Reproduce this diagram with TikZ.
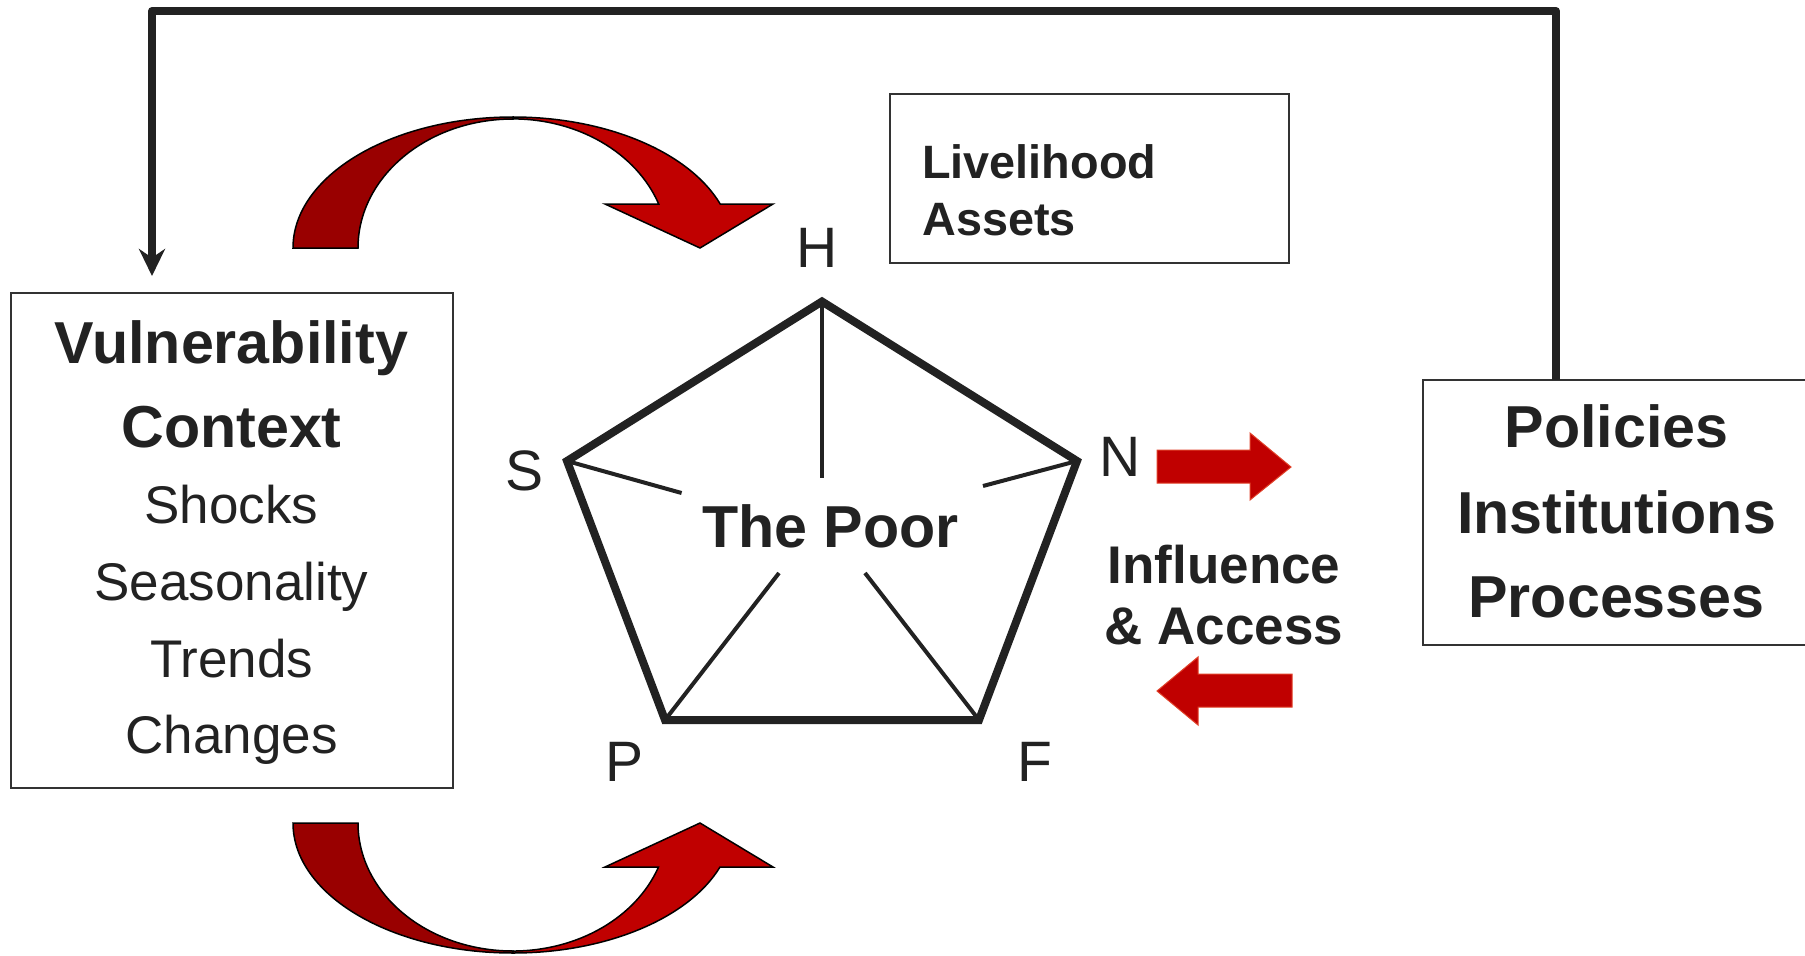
\documentclass[tikz,border=0pt]{standalone}
\usepackage{fontspec}
\setmainfont{Liberation Sans}
\usetikzlibrary{arrows.meta}
\definecolor{ink}{HTML}{222222}
\definecolor{boxline}{HTML}{333333}
\definecolor{dred}{HTML}{990000}
\definecolor{bred}{HTML}{C00000}
\definecolor{redrim}{HTML}{E04028}
\begin{document}
\begin{tikzpicture}[x=1pt,y=-1pt,
  frame/.style={draw=boxline, line width=2pt, inner sep=0pt, outer sep=0pt, anchor=north west},
  bigbold/.style={text=ink, inner sep=0pt, anchor=base, font=\fontsize{59.2}{60}\selectfont\bfseries},
  plain/.style={text=ink, inner sep=0pt, anchor=base, font=\fontsize{53}{55}\selectfont},
  vlabel/.style={text=ink, inner sep=0pt, anchor=base, font=\fontsize{57}{58}\selectfont},
  midbold/.style={text=ink, inner sep=0pt, anchor=base, font=\fontsize{53}{55}\selectfont\bfseries},
  smallbold/.style={text=ink, inner sep=0pt, anchor=base west, font=\fontsize{46.8}{48}\selectfont\bfseries},
  rim/.style={line width=8pt, draw=ink, line join=miter},
  spoke/.style={line width=4pt, draw=ink},
  feedback/.style={line width=8pt, draw=ink, line join=round},
  curvedark/.style={fill=dred, draw=black, line width=1.5pt, line join=miter},
  curvelight/.style={fill=bred, draw=black, line width=1.5pt, line join=miter},
  flatarrow/.style={fill=bred, draw=redrim, line width=1pt}
]
\useasboundingbox (0,0) rectangle (1805,956);
\fill[white] (0,0) rectangle (1805,956);

% boxes
\node[frame, minimum width=442pt, minimum height=495pt] (vul) at (10.7,293.3) {};
\node[frame, minimum width=399pt, minimum height=169pt] (assets) at (889.5,94.3) {};
\node[frame, minimum width=500pt, minimum height=265pt] (pol) at (1422.7,380) {};

% feedback line
\coordinate (fbA) at (1556,380);
\coordinate (fbB) at (152,11);
\coordinate (fbC) at (152,276);
\draw[feedback, -{Stealth[length=27pt,width=26pt]}] (fbA) |- (fbB) -- (fbC);

% texts in boxes
\node[bigbold] (v1) at (231.5,363) {Vulnerability};
\node[bigbold] (v2) at (231.5,447) {Context};
\node[plain] (v3) at (231.5,523) {Shocks};
\node[plain] (v4) at (231.5,600) {Seasonality};
\node[plain] (v5) at (231.5,677) {Trends};
\node[plain] (v6) at (231.5,753) {Changes};

\node[bigbold] (p1) at (1616.5,447) {Policies};
\node[bigbold] (p2) at (1616.5,533) {Institutions};
\node[bigbold] (p3) at (1616.5,617) {Processes};

\node[smallbold] (a1) at (922,178) {Livelihood};
\node[smallbold] (a2) at (922,235) {Assets};

\node[midbold] (i1) at (1224,583) {Influence};
\node[midbold] (i2) at (1224,644) {\& Access};

% pentagon
\coordinate (H) at (822,301.5);
\coordinate (N) at (1077,461);
\coordinate (F) at (979,720);
\coordinate (P) at (665,720);
\coordinate (S) at (567,461);
\coordinate (hs) at (822,478);
\coordinate (ss) at (681.6,493);
\coordinate (ns) at (983,486);
\coordinate (ps) at (779,573);
\coordinate (fs) at (865,573);
\draw[spoke] (H) -- (hs);
\draw[spoke] (S) -- (ss);
\draw[spoke] (N) -- (ns);
\draw[spoke] (P) -- (ps);
\draw[spoke] (F) -- (fs);
\draw[rim] (H) -- (N) -- (F) -- (P) -- (S) -- cycle;

\node[bigbold] (poor) at (830.5,547) {The Poor};
\node[vlabel] (lH) at (817,267) {H};
\node[vlabel] (lS) at (525,490) {S};
\node[vlabel] (lN) at (1120,476) {N};
\node[vlabel] (lP) at (625,781) {P};
\node[vlabel] (lF) at (1035,781) {F};

% curved arrow, top
\draw[curvedark] (293,248) arc[start angle=180, end angle=90, x radius=220pt, y radius=131pt]
  -- (513,119) arc[start angle=90, end angle=180, x radius=155pt, y radius=129pt] -- cycle;
\draw[curvelight] (513,117) arc[start angle=90, end angle=19.6, x radius=220pt, y radius=131pt]
  -- (773,204) -- (700,248) -- (605,204) -- (658.7,204)
  arc[start angle=19.9, end angle=90, x radius=155pt, y radius=129pt] -- cycle;

% curved arrow, bottom
\draw[curvedark] (293,823) arc[start angle=180, end angle=270, x radius=220pt, y radius=130pt]
  -- (513,951) arc[start angle=270, end angle=180, x radius=155pt, y radius=128pt] -- cycle;
\draw[curvelight] (513,953) arc[start angle=270, end angle=340.2, x radius=220pt, y radius=130pt]
  -- (773,867) -- (700,823) -- (605,867) -- (658.5,867)
  arc[start angle=339.9, end angle=270, x radius=155pt, y radius=128pt] -- cycle;

% flat arrows
\draw[flatarrow] (1157,450) -- (1250,450) -- (1250,433) -- (1291,467) -- (1250,500) -- (1250,483) -- (1157,483) -- cycle;
\draw[flatarrow] (1292,674) -- (1198,674) -- (1198,657) -- (1157,691) -- (1198,725) -- (1198,707) -- (1292,707) -- cycle;
\end{tikzpicture}
\end{document}
